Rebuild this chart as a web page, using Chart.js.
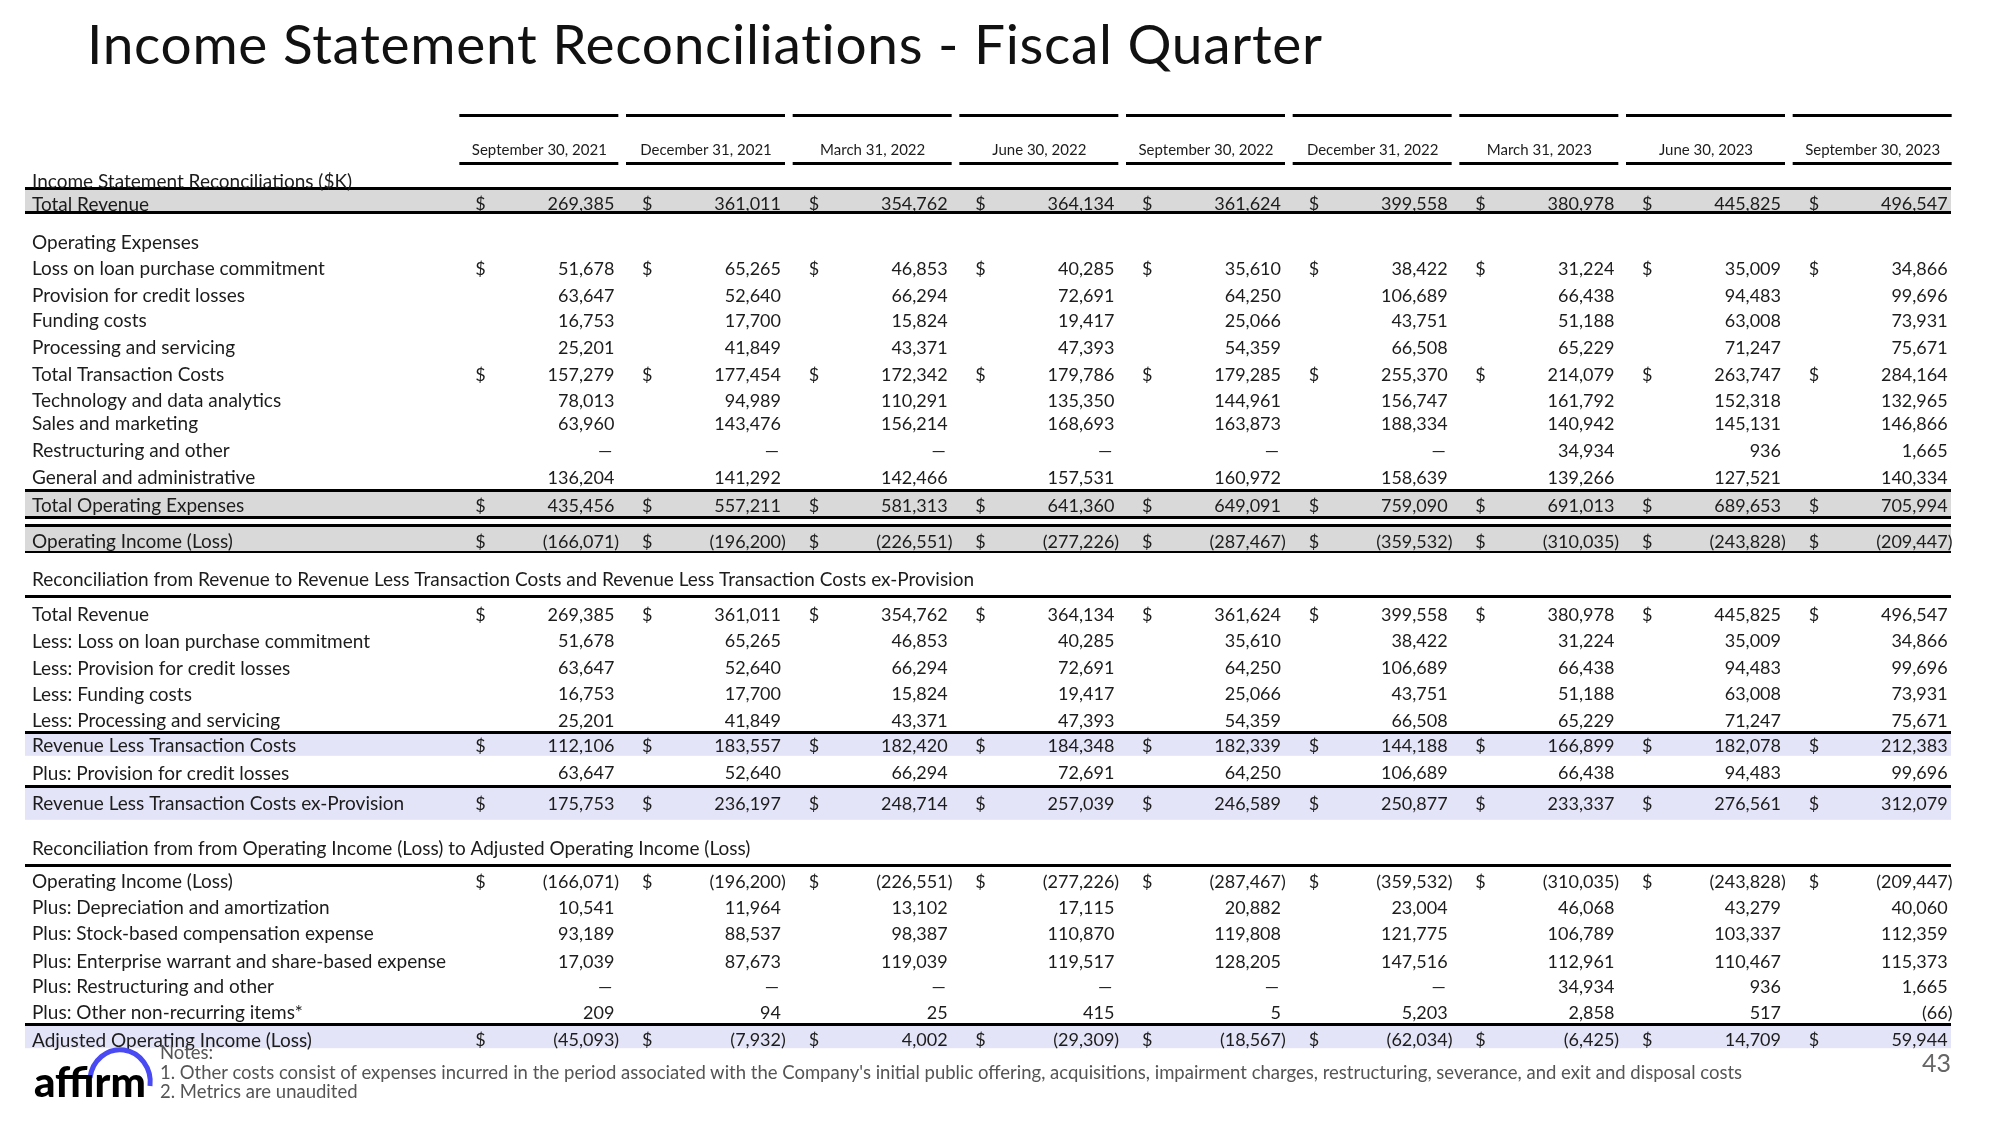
<!DOCTYPE html>
<html>
<head>
<meta charset="utf-8">
<title>Income Statement Reconciliations - Fiscal Quarter</title>
<script src="https://cdn.jsdelivr.net/npm/chart.js@4.4.0/dist/chart.umd.min.js"></script>
<style>
    html, body { margin: 0; padding: 0; background: #fff; }
    #page { position: relative; width: 2000px; height: 1125px; overflow: hidden; font-family: Lato, "Open Sans", sans-serif; }
    #title { position: absolute; left: 87px; top: 10px; font-size: 55px; letter-spacing: 0.7px; font-weight: 400; color: #111; white-space: nowrap; }
    #table { position: absolute; left: 0; top: 0; }
    #notes { position: absolute; left: 160px; top: 1043px; font-size: 18.5px; line-height: 19.5px; color: #555; white-space: nowrap; }
    #pageNo { position: absolute; left: 1922px; top: 1047px; font-size: 25px; color: #666; }
    #logo { position: absolute; left: 0; top: 1040px; z-index: 2; }
</style>
</head>
<body>
<div id="page">
    <div id="title">Income Statement Reconciliations - Fiscal Quarter</div>
    <canvas id="table" width="2000" height="1125"></canvas>
    <div id="notes">Notes:<br>1. Other costs consist of expenses incurred in the period associated with the Company's initial public offering, acquisitions, impairment charges, restructuring, severance, and exit and disposal costs<br>2. Metrics are unaudited</div>
    <div id="pageNo">43</div>
    <svg id="logo" width="170" height="80" viewBox="0 0 170 80">
        <path d="M 90 38 A 30 32 0 0 1 150 46" fill="none" stroke="#4a4af4" stroke-width="5" stroke-linecap="butt"/>
        <text x="34" y="57" font-family="Lato, sans-serif" font-weight="900" font-size="42" fill="#000">affirm</text>
    </svg>
</div>

<script>
'use strict';

/* ── Data ($K) ───────────────────────────────────────────── */
var quarters = ['September 30, 2021', 'December 31, 2021', 'March 31, 2022', 'June 30, 2022',
    'September 30, 2022', 'December 31, 2022', 'March 31, 2023', 'June 30, 2023', 'September 30, 2023'];

var totalRevenue        = [269385, 361011, 354762, 364134, 361624, 399558, 380978, 445825, 496547];
var lossOnLoanPurchase  = [51678, 65265, 46853, 40285, 35610, 38422, 31224, 35009, 34866];
var provisionCredit     = [63647, 52640, 66294, 72691, 64250, 106689, 66438, 94483, 99696];
var fundingCosts        = [16753, 17700, 15824, 19417, 25066, 43751, 51188, 63008, 73931];
var processingServicing = [25201, 41849, 43371, 47393, 54359, 66508, 65229, 71247, 75671];
var totalTransaction    = [157279, 177454, 172342, 179786, 179285, 255370, 214079, 263747, 284164];
var technologyData      = [78013, 94989, 110291, 135350, 144961, 156747, 161792, 152318, 132965];
var salesMarketing      = [63960, 143476, 156214, 168693, 163873, 188334, 140942, 145131, 146866];
var restructuringOther  = [null, null, null, null, null, null, 34934, 936, 1665];
var generalAdmin        = [136204, 141292, 142466, 157531, 160972, 158639, 139266, 127521, 140334];
var totalOpex           = [435456, 557211, 581313, 641360, 649091, 759090, 691013, 689653, 705994];
var operatingIncome     = [-166071, -196200, -226551, -277226, -287467, -359532, -310035, -243828, -209447];
var revLessTransaction  = [112106, 183557, 182420, 184348, 182339, 144188, 166899, 182078, 212383];
var revLessTransExProv  = [175753, 236197, 248714, 257039, 246589, 250877, 233337, 276561, 312079];
var depreciationAmort   = [10541, 11964, 13102, 17115, 20882, 23004, 46068, 43279, 40060];
var stockCompensation   = [93189, 88537, 98387, 110870, 119808, 121775, 106789, 103337, 112359];
var enterpriseWarrant   = [17039, 87673, 119039, 119517, 128205, 147516, 112961, 110467, 115373];
var otherNonRecurring   = [209, 94, 25, 415, 5, 5203, 2858, 517, -66];
var adjustedOpIncome    = [-45093, -7932, 4002, -29309, -18567, -62034, -6425, 14709, 59944];

/* ── Layout: row position on the y scale (row units), band spans ── */
var GREY = '#d9d9d9', LILAC = '#e4e4f8', INK = '#1c1c1c';
var FONT = 'Lato, "Open Sans", sans-serif';

var rows = [
    { label: 'Income Statement Reconciliations ($K)', pos: 0 },
    { label: 'Total Revenue', pos: 0.86, values: totalRevenue, dollar: true,
      band: GREY, span: [-0.55, 0.36], ruleTop: 3, ruleBottom: 3 },
    { label: 'Operating Expenses', pos: 2.32 },
    { label: 'Loss on loan purchase commitment', pos: 3.31, values: lossOnLoanPurchase, dollar: true },
    { label: 'Provision for credit losses', pos: 4.33, values: provisionCredit },
    { label: 'Funding costs', pos: 5.29, values: fundingCosts },
    { label: 'Processing and servicing', pos: 6.31, values: processingServicing },
    { label: 'Total Transaction Costs', pos: 7.34, values: totalTransaction, dollar: true },
    { label: 'Technology and data analytics', pos: 8.33, values: technologyData },
    { label: 'Sales and marketing', pos: 9.2, values: salesMarketing },
    { label: 'Restructuring and other', pos: 10.23, values: restructuringOther },
    { label: 'General and administrative', pos: 11.25, values: generalAdmin },
    { label: 'Total Operating Expenses', pos: 12.3, values: totalOpex, dollar: true,
      band: GREY, span: [-0.55, 0.47], ruleTop: 3, ruleBottom: 3 },
    { label: 'Operating Income (Loss)', pos: 13.68, values: operatingIncome, dollar: true,
      band: GREY, span: [-0.6, 0.42], ruleTop: 3, ruleBottom: 2 },
    { label: 'Reconciliation from Revenue to Revenue Less Transaction Costs and Revenue Less Transaction Costs ex-Provision',
      pos: 15.13, ruleBelow: 0.65 },
    { label: 'Total Revenue', pos: 16.46, values: totalRevenue, dollar: true },
    { label: 'Less: Loss on loan purchase commitment', pos: 17.45, values: lossOnLoanPurchase },
    { label: 'Less: Provision for credit losses', pos: 18.48, values: provisionCredit },
    { label: 'Less: Funding costs', pos: 19.47, values: fundingCosts },
    { label: 'Less: Processing and servicing', pos: 20.46, values: processingServicing },
    { label: 'Revenue Less Transaction Costs', pos: 21.43, values: revLessTransaction, dollar: true,
      band: LILAC, span: [-0.48, 0.4], ruleTop: 3 },
    { label: 'Plus: Provision for credit losses', pos: 22.47, values: provisionCredit },
    { label: 'Revenue Less Transaction Costs ex-Provision', pos: 23.61, values: revLessTransExProv, dollar: true,
      band: LILAC, span: [-0.61, 0.65], ruleTop: 3 },
    { label: 'Reconciliation from from Operating Income (Loss) to Adjusted Operating Income (Loss)',
      pos: 25.32, ruleBelow: 0.68 },
    { label: 'Operating Income (Loss)', pos: 26.58, values: operatingIncome, dollar: true },
    { label: 'Plus: Depreciation and amortization', pos: 27.57, values: depreciationAmort },
    { label: 'Plus: Stock-based compensation expense', pos: 28.56, values: stockCompensation },
    { label: 'Plus: Enterprise warrant and share-based expense', pos: 29.62, values: enterpriseWarrant },
    { label: 'Plus: Restructuring and other', pos: 30.57, values: restructuringOther },
    { label: 'Plus: Other non-recurring items*', pos: 31.56, values: otherNonRecurring },
    { label: 'Adjusted Operating Income (Loss)', pos: 32.6, values: adjustedOpIncome, dollar: true,
      band: LILAC, span: [-0.58, 0.33], ruleTop: 3 }
];

function fmt(v) {
    return Math.abs(v).toLocaleString('en-US');
}

function rule(ctx, x0, x1, y, w) {
    ctx.fillStyle = '#000';
    ctx.fillRect(x0, Math.round(y - w / 2), x1 - x0, w);
}

/* Draws the table cells through the chart's own x (quarter) and y (row) scales. */
var tablePlugin = {
    id: 'tableCells',
    afterDraw: function (chart) {
        var ctx = chart.ctx;
        var x = chart.scales.x, y = chart.scales.y;
        var left = 25, right = x.right - 5;

        ctx.save();

        // column header rules (above and below the quarter labels)
        quarters.forEach(function (q, i) {
            var cx = x.getPixelForValue(i);
            rule(ctx, cx - 80, cx + 79, x.bottom - 50, 3);
            rule(ctx, cx - 80, cx + 79, x.bottom - 2, 3);
        });

        // bands and horizontal rules
        rows.forEach(function (r) {
            if (r.band) {
                var top = y.getPixelForValue(r.pos + r.span[0]);
                var bot = y.getPixelForValue(r.pos + r.span[1]);
                ctx.fillStyle = r.band;
                ctx.fillRect(left, top, right - left, bot - top);
                if (r.ruleTop) rule(ctx, left, right, top, r.ruleTop);
                if (r.ruleBottom) rule(ctx, left, right, bot, r.ruleBottom);
            }
            if (r.ruleBelow) rule(ctx, left, right, y.getPixelForValue(r.pos + r.ruleBelow), 3);
        });

        // text
        ctx.fillStyle = INK;
        ctx.textBaseline = 'middle';
        rows.forEach(function (r) {
            var cy = y.getPixelForValue(r.pos) + 1;
            ctx.font = '19px ' + FONT;
            ctx.textAlign = 'left';
            ctx.fillText(r.label, 32, cy);
            if (!r.values) return;
            ctx.font = '18px ' + FONT;
            r.values.forEach(function (v, i) {
                var cx = x.getPixelForValue(i);
                if (r.dollar) {
                    ctx.textAlign = 'left';
                    ctx.fillText('$', cx - 64, cy);
                }
                ctx.textAlign = 'right';
                if (v === null) {
                    ctx.fillText('\u2014', cx + 73, cy);
                } else if (v < 0) {
                    ctx.fillText('(' + fmt(v), cx + 75, cy);
                    ctx.textAlign = 'left';
                    ctx.fillText(')', cx + 75, cy);
                } else {
                    ctx.fillText(fmt(v), cx + 75, cy);
                }
            });
        });

        ctx.restore();
    }
};

new Chart(document.getElementById('table').getContext('2d'), {
    type: 'bar',
    data: { labels: quarters, datasets: [] },
    options: {
        responsive: false,
        animation: false,
        devicePixelRatio: 1,
        layout: { padding: { left: 456, right: 44, top: 135, bottom: 71 } },
        plugins: { legend: { display: false }, tooltip: { enabled: false } },
        scales: {
            x: {
                type: 'category',
                position: 'top',
                offset: true,
                grid: { display: false, drawTicks: false },
                border: { display: false },
                ticks: { color: INK, padding: 6, maxRotation: 0, autoSkip: false,
                         font: { family: FONT, size: 15 } }
            },
            y: { type: 'linear', reverse: true, min: -0.6, max: 33.15, display: false }
        }
    },
    plugins: [tablePlugin]
});
</script>
</body>
</html>
